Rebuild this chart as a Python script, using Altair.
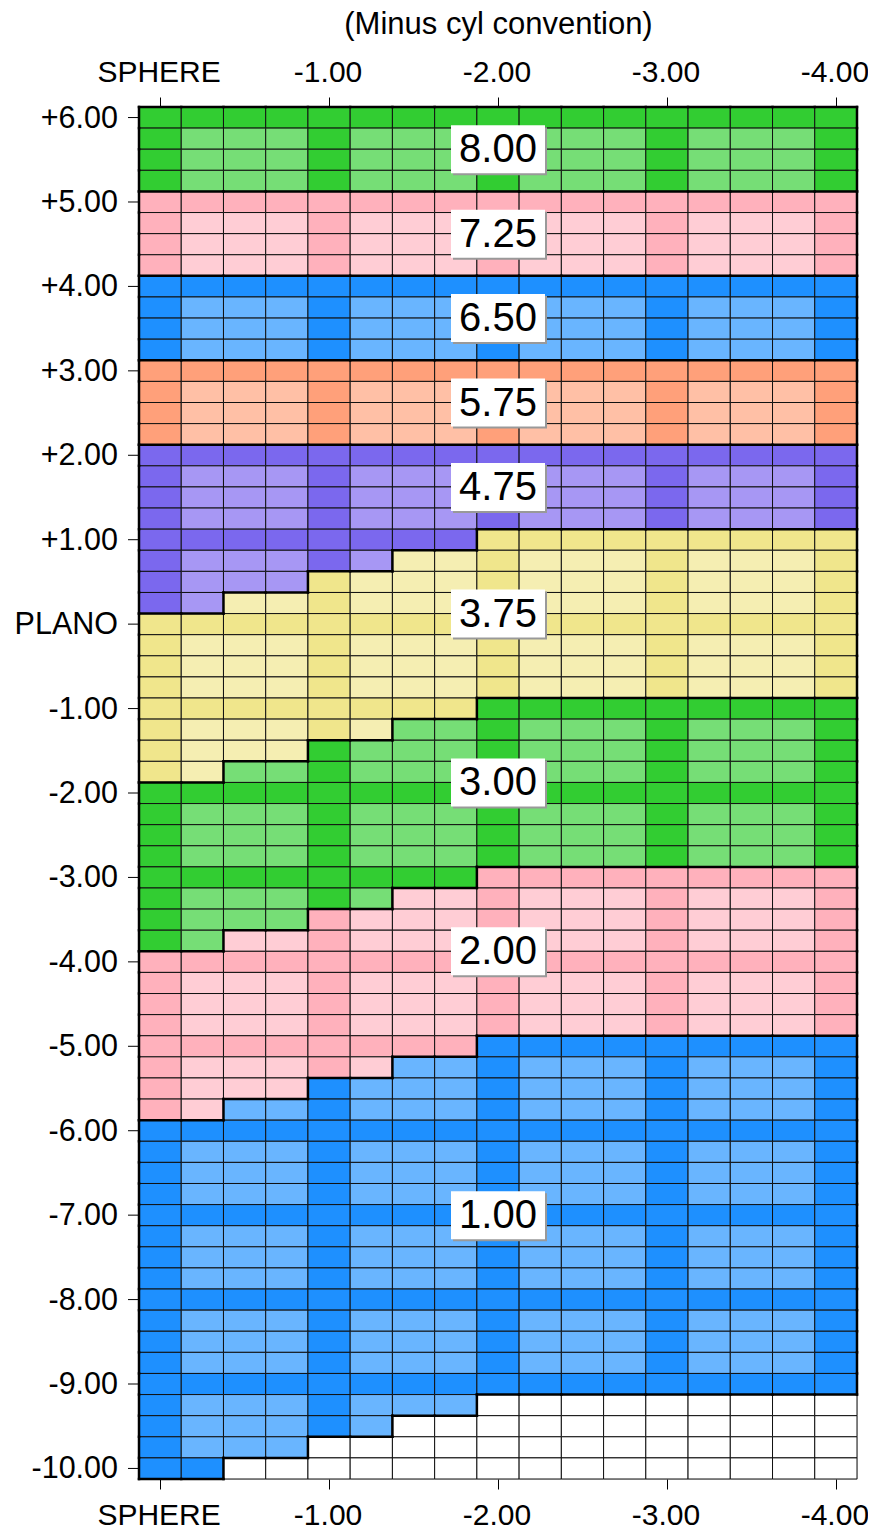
import altair as alt
import pandas as pd

# ---- grid values -------------------------------------------------------
cyl_values = [0.0, -0.25, -0.5, -0.75, -1.0, -1.25, -1.5, -1.75, -2.0,
              -2.25, -2.5, -2.75, -3.0, -3.25, -3.5, -3.75, -4.0]
sphere_values = [6.0, 5.75, 5.5, 5.25, 5.0, 4.75, 4.5, 4.25, 4.0, 3.75, 3.5, 3.25,
                 3.0, 2.75, 2.5, 2.25, 2.0, 1.75, 1.5, 1.25, 1.0, 0.75, 0.5, 0.25,
                 0.0, -0.25, -0.5, -0.75, -1.0, -1.25, -1.5, -1.75, -2.0, -2.25,
                 -2.5, -2.75, -3.0, -3.25, -3.5, -3.75, -4.0, -4.25, -4.5, -4.75,
                 -5.0, -5.25, -5.5, -5.75, -6.0, -6.25, -6.5, -6.75, -7.0, -7.25,
                 -7.5, -7.75, -8.0, -8.25, -8.5, -8.75, -9.0, -9.25, -9.5, -9.75,
                 -10.0]

# ---- zones --------------------------------------------------------------
zone_names = ["8.00", "7.25", "6.50", "5.75", "4.75", "3.75", "3.00", "2.00", "1.00"]
zone_dark = ["#32CD32", "#FFB1BC", "#1E90FF", "#FFA07A", "#7B68EE",
             "#F0E68C", "#32CD32", "#FFB1BC", "#1E90FF"]
zone_light = ["#76DE76", "#FFCDD5", "#69B5FF", "#FFC0A6", "#A797F4",
              "#F5EEB2", "#76DE76", "#FFCDD5", "#69B5FF"]
# lowest sphere in each zone, for cylinder groups
# [0/-0.25, -0.50/-0.75, -1.00/-1.25, -1.50/-1.75, -2.00 and more]
zone_floor = [
    [5.25, 5.25, 5.25, 5.25, 5.25],
    [4.25, 4.25, 4.25, 4.25, 4.25],
    [3.25, 3.25, 3.25, 3.25, 3.25],
    [2.25, 2.25, 2.25, 2.25, 2.25],
    [0.25, 0.50, 0.75, 1.00, 1.25],
    [-1.75, -1.50, -1.25, -1.00, -0.75],
    [-3.75, -3.50, -3.25, -3.00, -2.75],
    [-5.75, -5.50, -5.25, -5.00, -4.75],
    [-10.00, -9.75, -9.50, -9.25, -9.00],
]
label_sphere = [5.625, 4.625, 3.625, 2.625, 1.625, 0.125, -1.875, -3.875, -7.0]
label_cyl = [-2.0] * len(zone_names)

x_tick_values = [0.0, -1.0, -2.0, -3.0, -4.0]
x_tick_labels = ["SPHERE", "-1.00", "-2.00", "-3.00", "-4.00"]
y_tick_values = [6.0, 5.0, 4.0, 3.0, 2.0, 1.0, 0.0, -1.0, -2.0, -3.0, -4.0, -5.0,
                 -6.0, -7.0, -8.0, -9.0, -10.0]
y_tick_labels = ["+6.00", "+5.00", "+4.00", "+3.00", "+2.00", "+1.00", "PLANO",
                 "-1.00", "-2.00", "-3.00", "-4.00", "-5.00", "-6.00", "-7.00",
                 "-8.00", "-9.00", "-10.00"]

FONT = "Liberation Sans"
HALF = 0.125
XFS = 30
YFS = 30.5
TFS = 31


def is_whole(v):
    return abs(v - round(v)) < 1e-9


def zone_of(s, c):
    g = min(int(-c * 2 + 1e-9), 4)
    for k, floors in enumerate(zone_floor):
        if s >= floors[g] - 1e-9:
            return k
    return -1


# ---- cells --------------------------------------------------------------
zones = [[zone_of(s, c) for c in cyl_values] for s in sphere_values]
cells = []
for i, s in enumerate(sphere_values):
    for j, c in enumerate(cyl_values):
        k = zones[i][j]
        if k < 0:
            col = "#FFFFFF"
        elif is_whole(s) or is_whole(c):
            col = zone_dark[k]
        else:
            col = zone_light[k]
        cells.append({"cyl": c, "sph": s, "fill": col})
cells_df = pd.DataFrame(cells)

# ---- zone boundaries ----------------------------------------------------
segs = []
nr, nc = len(sphere_values), len(cyl_values)


def zget(i, j):
    if 0 <= i < nr and 0 <= j < nc:
        return zones[i][j]
    return -1


for i, s in enumerate(sphere_values):
    for j, c in enumerate(cyl_values):
        a = zones[i][j]
        b = zget(i, j + 1)
        if a != b and not (a < 0 and b < 0):
            segs.append({"x": c - HALF, "x2": c - HALF, "y": s - HALF, "y2": s + HALF})
        b = zget(i + 1, j)
        if a != b and not (a < 0 and b < 0):
            segs.append({"x": c + HALF, "x2": c - HALF, "y": s - HALF, "y2": s - HALF})
        if j == 0 and a >= 0:
            segs.append({"x": c + HALF, "x2": c + HALF, "y": s - HALF, "y2": s + HALF})
        if i == 0 and a >= 0:
            segs.append({"x": c + HALF, "x2": c - HALF, "y": s + HALF, "y2": s + HALF})
segs_df = pd.DataFrame(segs)

labels_df = pd.DataFrame({"cyl": label_cyl, "sph": label_sphere, "txt": zone_names})
yticks_df = pd.DataFrame({"v": y_tick_values, "lab": y_tick_labels})
xticks_df = pd.DataFrame({"v": x_tick_values, "lab": x_tick_labels})

# ---- scales / axes -------------------------------------------------------
xscale = alt.Scale(domain=[cyl_values[0] + HALF, cyl_values[-1] - HALF], nice=False, zero=False)
yscale = alt.Scale(domain=[sphere_values[-1] - HALF, sphere_values[0] + HALF], nice=False, zero=False)


def expr_for(vals, labs):
    parts = [f"abs(datum.value - ({v})) < 0.01 ? '{l}'" for v, l in zip(vals, labs)]
    return " : ".join(parts) + " : ''"


axis_common = dict(labelFont=FONT, labelFontSize=XFS, labelColor="black",
                   tickColor="black", tickSize=10, tickWidth=1, labelOffset=-1.5,
                   domain=False, grid=False, labelOverlap=False)

x_top = alt.Axis(orient="top", values=x_tick_values,
                 labelExpr=expr_for(x_tick_values, x_tick_labels),
                 title="(Minus cyl convention)", titleFont=FONT, titleFontSize=TFS,
                 titleFontWeight="normal", titleColor="black", titlePadding=17,
                 labelPadding=10, **axis_common)
x_bottom = alt.Axis(orient="bottom", values=x_tick_values,
                    labelExpr=expr_for(x_tick_values, x_tick_labels),
                    title=None, labelPadding=11, **axis_common)

base_cells = alt.Chart(cells_df).transform_calculate(
    x1="datum.cyl + 0.125", x2="datum.cyl - 0.125",
    y1="datum.sph - 0.125", y2="datum.sph + 0.125")

rects = base_cells.mark_rect(stroke="#111111", strokeWidth=1).encode(
    x=alt.X("x1:Q", scale=xscale, axis=x_top),
    x2="x2:Q",
    y=alt.Y("y1:Q", scale=yscale, axis=None),
    y2="y2:Q",
    fill=alt.Fill("fill:N", scale=None),
)

bottom_axis_layer = alt.Chart(xticks_df).mark_tick(opacity=0).encode(
    x=alt.X("v:Q", scale=xscale, axis=x_bottom),
)

# left axis (sphere): ticks and labels placed through the y scale
y_ticks = alt.Chart(yticks_df).mark_rule(color="black", strokeWidth=1).encode(
    x=alt.value(-11), x2=alt.value(0),
    y=alt.Y("v:Q", scale=yscale, axis=None),
)
y_labels = alt.Chart(yticks_df).mark_text(font=FONT, fontSize=YFS, color="black",
                                          align="right", baseline="middle", dy=1).encode(
    x=alt.value(-21),
    y=alt.Y("v:Q", scale=yscale, axis=None),
    text="lab:N",
)

borders = alt.Chart(segs_df).mark_rule(color="black", strokeWidth=2.5, strokeCap="square").encode(
    x=alt.X("x:Q", scale=xscale, axis=None),
    x2="x2:Q",
    y=alt.Y("y:Q", scale=yscale, axis=None),
    y2="y2:Q",
)

shadow = alt.Chart(labels_df).mark_rect(width=94, height=48, fill="#999999", xOffset=2, yOffset=2).encode(
    x=alt.X("cyl:Q", scale=xscale, axis=None),
    y=alt.Y("sph:Q", scale=yscale, axis=None),
)
boxes = alt.Chart(labels_df).mark_rect(width=94, height=48, fill="white").encode(
    x=alt.X("cyl:Q", scale=xscale, axis=None),
    y=alt.Y("sph:Q", scale=yscale, axis=None),
)
texts = alt.Chart(labels_df).mark_text(font=FONT, fontSize=40, color="black",
                                       baseline="middle", align="center", dy=1).encode(
    x=alt.X("cyl:Q", scale=xscale, axis=None),
    y=alt.Y("sph:Q", scale=yscale, axis=None),
    text="txt:N",
)

chart = alt.layer(rects, bottom_axis_layer, y_ticks, y_labels, borders, shadow, boxes, texts).properties(
    width=718, height=1372,
    autosize=alt.AutoSizeParams(type="none"),
    padding={"left": 131, "top": 99, "right": 11, "bottom": 54},
).configure_view(stroke=None).configure(background="white")

chart.save("out.html", embed_options={"renderer": "svg", "actions": False})
